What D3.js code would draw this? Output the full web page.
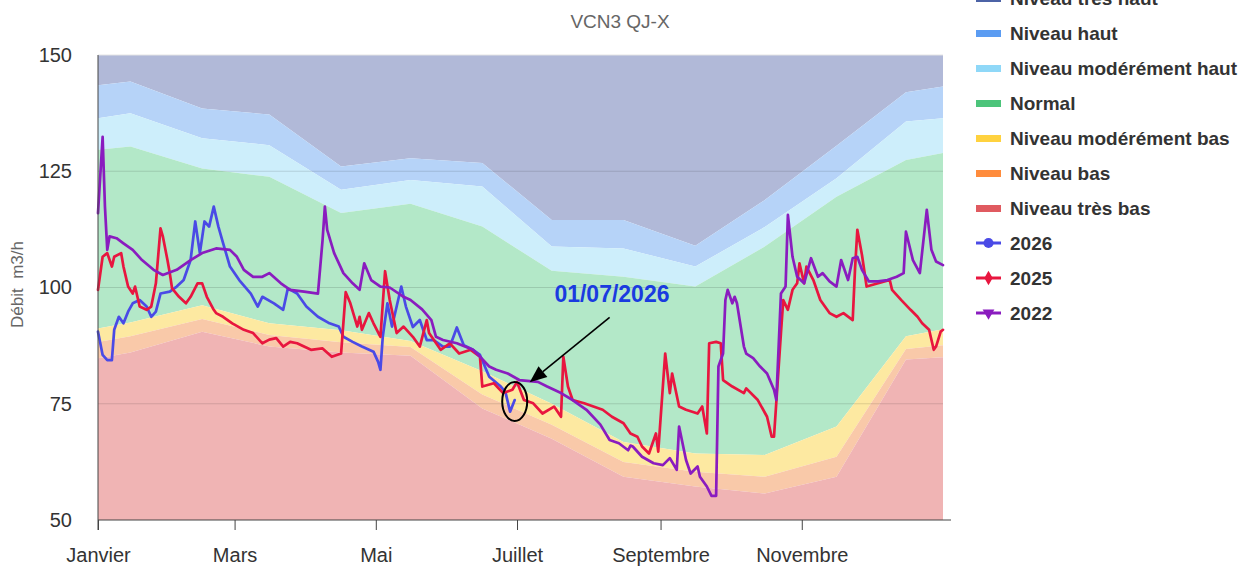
<!DOCTYPE html>
<html><head><meta charset="utf-8">
<script src="https://cdn.jsdelivr.net/npm/d3@7"></script>
<style>body{margin:0;background:#fff;} svg{display:block;font-family:"Liberation Sans",Arial,sans-serif;}</style>
</head><body>
<svg id="chart" width="1241" height="567"></svg>
<script>
// ---- data ----
const subtitle = "VCN3 QJ-X";
const yLabel = "Débit  m3/h";
const monthLabels = ["Janvier","Mars","Mai","Juillet","Septembre","Novembre"];
const monthDays = [0,59,120,181,243,304];
const yTicks = [50,75,100,125,150];

// thresholds (day of year -> m3/h)
const bandDays  = [0,14,45,74,105,135,166,196,227,258,288,319,349,365];
const seuilHaut        = [143.5,144.3,138.5,137.2,126,127.8,126.8,114.5,114.5,109,118.8,130.5,142,143.2];
const seuilModHaut     = [136.4,137.5,132.1,130.6,121,123.1,121.7,108.8,108.4,104.5,113,123.5,135.7,136.4];
const seuilNormalHaut  = [129.6,130.3,125.6,123.8,116,118,113.1,103.6,102.3,100.2,108.8,119.5,127.4,128.9];
const seuilNormalBas   = [91.2,92.5,96.2,92.3,90.8,88.5,82,75,66.8,64.3,64,70.1,89.5,91];
const seuilModBas      = [88.3,89.5,93.2,89.8,88.2,87.2,77,70.5,62.5,60.4,59.3,63.6,86.8,87.6];
const seuilBas         = [84.8,86,90.5,87.3,86,85.3,74,67.5,59.3,57.2,55.7,59.3,84.5,85];

const bandNames = ["Niveau très haut","Niveau haut","Niveau modérément haut","Normal","Niveau modérément bas","Niveau bas","Niveau très bas"];
const bandLegendColors = ["#4c63a6","#5b9cf2","#8fd8f8","#4cc47a","#ffd23f","#ff8c3c","#e05a60"];
const bandFillColors = ["#b1b9d8","#b6d3f8","#cdeefb","#b3e8c8","#fde9a1","#f9c9a9","#f0b4b4"];

const days2026 = [0,2,4,6,7,9,11,13,15,18,21,23,25,27,31,34,37,40,42,44,46,48,50,52,54,57,61,66,69,71,76,80,82,86,90,95,100,104,106,110,114,119,121,122,123,125,127,131,133,136,139,142,145,149,152,155,158,162,165,169,174,176,178,180];
const vals2026 = [90.5,85.5,84.4,84.4,90.9,93.7,92.3,94.8,96.6,97.3,95.9,93.7,94.8,98.7,99.1,100.2,101.6,105.9,114.2,107.4,114.2,113.1,117.4,113.1,109.6,104.5,101.6,98.7,95.9,98,96.6,95.2,99.8,98.7,95.9,93.7,92.3,91.6,89.4,88.3,87.3,86.2,84,82.3,89.4,96.6,91.6,100.2,95.9,91.5,93,88.7,88.7,87.3,87.3,91.4,87.6,86.6,85.5,80.8,78.7,77.5,73.3,75.8];

const days2025 = [0,2,4,6,7,10,11,13,15,16,18,21,23,25,27,28,30,31,32,35,38,40,43,45,47,50,51,54,58,63,67,71,74,77,80,83,86,92,97,101,105,107,109,112,113,114,117,119,122,124,126,129,132,136,139,142,143,148,152,156,161,165,166,171,175,179,181,184,188,192,197,200,201,203,205,210,214,218,222,227,230,233,235,238,241,242,245,247,248,251,254,259,261,263,264,267,269,270,274,279,280,285,289,291,292,295,296,298,300,302,303,305,306,309,312,316,319,322,326,327,328,330,332,337,342,343,347,351,354,356,359,361,362,364,365];
const vals2025 = [99.5,106.6,107.4,104.5,106.6,107.4,104.5,100.2,98.7,100.2,95.9,95.2,95.9,100.9,112.7,111,105.9,103.1,99.8,98,96.6,98,100.9,100.9,98,95.2,94.5,93.7,92.3,90.9,90.2,88,88.8,89.1,87.3,88.3,88,86.6,86.9,85.1,85.8,99,96.6,91.6,93.7,90.9,94.5,92.3,89.4,103.5,97.3,90.2,91.6,89.4,87.3,93,90.2,86.6,88,85.8,86.6,85.1,78.7,79.4,77.3,78,79.7,75.8,75.1,72.9,74.4,72.2,85.1,78.7,75.8,75.1,74.4,73.7,72.2,70.8,68.6,67.9,65.8,64.3,68.6,64.7,85.8,77.3,81.5,74.4,73.7,72.9,74.4,68.6,88,88.3,88,80.1,78.7,77.3,78.3,75.8,72.2,67.9,67.9,90.2,97.3,95.2,99.5,100.9,105.2,100.9,104.5,101.6,97.3,94.5,93.7,94.5,93,104,112.4,107,100.2,100.9,101.6,99.5,97.3,95.2,93.7,92.3,90.9,86.6,87.3,90.5,90.9];

const days2022 = [0,2,3,4,5,8,11,15,19,24,28,34,40,45,51,57,60,63,67,71,74,79,83,89,95,97,98,99,102,106,110,113,115,118,122,126,132,135,140,144,146,149,155,162,165,169,172,177,182,190,194,200,205,211,217,221,225,229,230,231,235,240,244,247,250,251,254,256,259,260,263,265,267,268,270,271,272,274,275,276,279,280,283,286,289,292,293,295,297,298,300,302,305,308,311,313,316,319,321,324,326,328,330,333,337,341,345,348,349,352,355,358,360,362,365];
const vals2022 = [116,132.4,117.4,108.1,111,110.6,109.5,108.1,105.9,103.8,102.7,103.8,105.9,107.4,108.4,108.1,106.6,103.8,102.3,102.3,103.1,100.9,99.5,99.1,98.7,110.2,117.4,112.4,107.4,103.1,100.9,99.5,105.2,101.6,100.2,100,98,97.3,95.3,93,89.4,88.7,88,86.6,85.1,83,82.3,81.5,80.1,79.7,78.7,77.3,75.8,73.7,70.5,67.2,66.5,65,66,65.8,63.6,62.2,61.8,63.3,60.8,70.1,62.9,60,61.5,59.3,57.2,55.2,55.2,83,85.8,97.3,99.5,96.6,98,96.6,87.3,85.8,84.8,83,81.5,78,75.8,98.7,100.2,115.6,106.6,102.3,100.9,106.3,102.3,103.1,101.3,100.2,105.9,101.6,106.3,106.6,103.8,101.3,101.3,101.6,102.3,103.1,112,105.9,103.1,116.7,108.1,105.6,104.8];

const seriesNames = ["2026","2025","2022"];
const seriesColors = ["#4a4ae6","#e8163f","#8a1cbf"];
const seriesMarkers = ["circle","diamond","triangle"];

// annotation (data space)
const annotText = "01/07/2026";
const annotDay = 180, annotVal = 75.5;       // circled point
const arrowFrom = [221, 93.6], arrowTo = [186.5, 79.6];
const annotTextPos = [222, 96.8];

// ---- drawing ----
const svg = d3.select("#chart");
const x = d3.scaleLinear().domain([0,365]).range([98,943]);
const y = d3.scaleLinear().domain([50,150]).range([520,55]);

// bands
const bounds = [bandDays.map(()=>150), seuilHaut, seuilModHaut, seuilNormalHaut, seuilNormalBas, seuilModBas, seuilBas, bandDays.map(()=>50)];
const area = d3.area().x(d=>x(d.d)).y0(d=>y(d.lo)).y1(d=>y(d.hi));
for (let i=0;i<7;i++){
  const pts = bandDays.map((d,j)=>({d:d, hi:bounds[i][j], lo:bounds[i+1][j]}));
  svg.append("path").attr("d", area(pts)).attr("fill", bandFillColors[i]);
}

// grid lines
svg.append("g").selectAll("line").data([75,100,125]).join("line")
  .attr("x1", x(0)).attr("x2", x(365)).attr("y1", d=>y(d)).attr("y2", d=>y(d))
  .attr("stroke","rgba(0,0,0,0.13)").attr("stroke-width",1);
svg.append("line").attr("x1",x(0)).attr("x2",x(365)).attr("y1",y(150)).attr("y2",y(150))
  .attr("stroke","#e4e4e4").attr("stroke-width",1);

// series lines
const line = d3.line().x(d=>x(d[0])).y(d=>y(d[1]));
const series = [
  d3.zip(days2026, vals2026),
  d3.zip(days2025, vals2025),
  d3.zip(days2022, vals2022)
];
series.forEach((s,i)=>{
  svg.append("path").attr("d", line(s)).attr("fill","none")
    .attr("stroke", seriesColors[i]).attr("stroke-width",2.7)
    .attr("stroke-linejoin","round").attr("stroke-linecap","round");
});

// axes
const xAxis = d3.axisBottom(x).tickValues(monthDays).tickFormat((d,i)=>monthLabels[i]).tickSize(10).tickPadding(18);
const gx = svg.append("g").attr("transform",`translate(0,${y(50)})`).call(xAxis);
gx.select(".domain").attr("stroke","#444").attr("d", `M${x(0)},0H${x(365)+8}`);
gx.selectAll(".tick line").attr("stroke","#444");
gx.selectAll("text").attr("font-size",20).attr("fill","#333").attr("font-family",'"Liberation Sans",Arial,sans-serif');

const yAxis = d3.axisLeft(y).tickValues(yTicks).tickSize(0).tickPadding(26);
const gy = svg.append("g").attr("transform",`translate(${x(0)},0)`).call(yAxis);
gy.select(".domain").attr("stroke","#444").attr("d", `M0,${y(150)}V${y(50)+10}`);
gy.selectAll("text").attr("font-size",20).attr("fill","#333").attr("font-family",'"Liberation Sans",Arial,sans-serif');

// y label
svg.append("text").attr("transform",`translate(23,${y(100)-3}) rotate(-90)`)
  .attr("text-anchor","middle").attr("font-size",17).attr("fill","#666").attr("xml:space","preserve").text(yLabel);

// subtitle
svg.append("text").attr("x",620).attr("y",28).attr("text-anchor","middle")
  .attr("font-size",19).attr("fill","#666").text(subtitle);

// legend
const lg = svg.append("g").attr("transform","translate(976,0)");
bandNames.forEach((n,i)=>{
  const cy = -2 + i*35;
  lg.append("rect").attr("x",0).attr("y",cy-3).attr("width",25).attr("height",7).attr("fill",bandLegendColors[i]);
  lg.append("text").attr("x",34).attr("y",cy+7).attr("font-size",19).attr("font-weight","bold").attr("fill","#333").text(n);
});
seriesNames.forEach((n,i)=>{
  const cy = -2 + (7+i)*35;
  lg.append("line").attr("x1",0).attr("x2",25).attr("y1",cy).attr("y2",cy).attr("stroke",seriesColors[i]).attr("stroke-width",3);
  const sym = seriesMarkers[i]==="circle" ? d3.symbolCircle : seriesMarkers[i]==="diamond" ? d3.symbolDiamond : d3.symbolTriangle;
  const sz = seriesMarkers[i]==="circle" ? 80 : 60;
  lg.append("path").attr("d", d3.symbol().type(sym).size(sz)())
    .attr("transform", `translate(12.5,${cy}) rotate(${seriesMarkers[i]==="triangle"?180:0})`)
    .attr("fill", seriesColors[i]);
  lg.append("text").attr("x",34).attr("y",cy+7).attr("font-size",19).attr("font-weight","bold").attr("fill","#333").text(n);
});

// annotation
svg.append("ellipse").attr("cx",x(annotDay)).attr("cy",y(annotVal)).attr("rx",12.5).attr("ry",19.5)
  .attr("fill","none").attr("stroke","#000").attr("stroke-width",2);
const ax1 = x(arrowFrom[0]), ay1 = y(arrowFrom[1]), ax2 = x(arrowTo[0]), ay2 = y(arrowTo[1]);
const ang = Math.atan2(ay2-ay1, ax2-ax1);
const hl = 17, hw = 7;
const bx = ax2 - hl*Math.cos(ang), by = ay2 - hl*Math.sin(ang);
svg.append("line").attr("x1",ax1).attr("y1",ay1).attr("x2",bx).attr("y2",by).attr("stroke","#000").attr("stroke-width",1.6);
svg.append("path").attr("d", `M${ax2},${ay2}L${bx - hw*Math.sin(ang)},${by + hw*Math.cos(ang)}L${bx + hw*Math.sin(ang)},${by - hw*Math.cos(ang)}Z`).attr("fill","#000");
svg.append("text").attr("x",x(annotTextPos[0])).attr("y",y(annotTextPos[1])).attr("text-anchor","middle")
  .attr("font-size",23).attr("font-weight","bold").attr("fill","#1a3be0").text(annotText);
</script>
</body></html>
